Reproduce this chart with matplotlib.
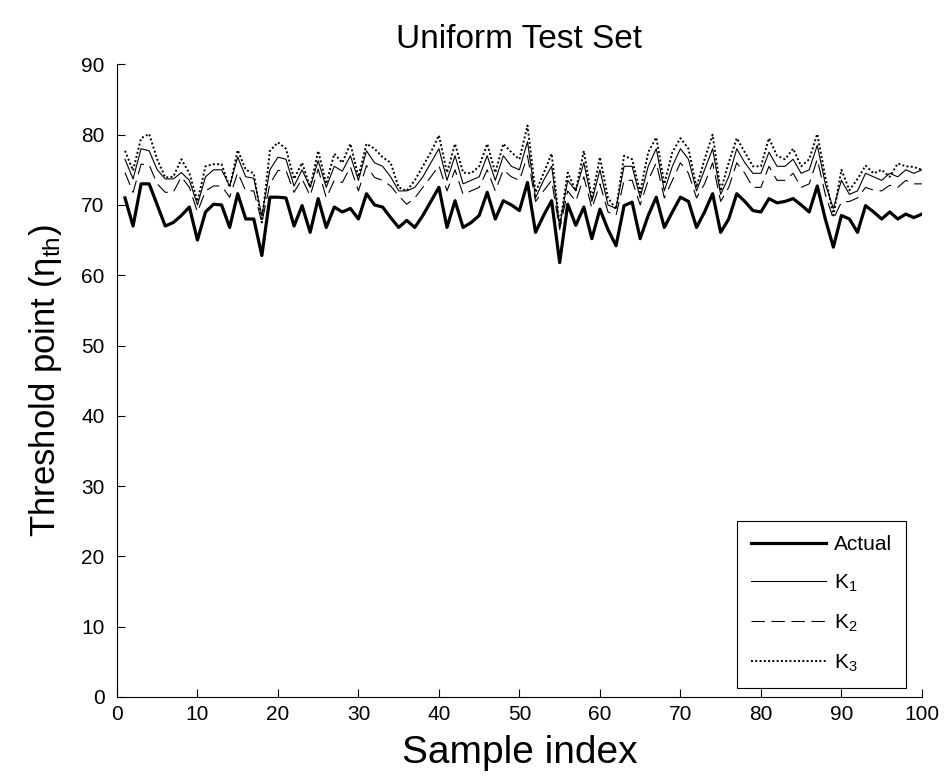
import numpy as np
import matplotlib
matplotlib.use("Agg")
import matplotlib.pyplot as plt

plt.rcParams['font.family'] = ['Liberation Sans', 'DejaVu Sans']
plt.rcParams['mathtext.fontset'] = 'custom'
plt.rcParams['mathtext.rm'] = 'Liberation Sans'
plt.rcParams['mathtext.it'] = 'Liberation Sans'

# sample index 1..100
sample = list(range(1, 101))

# threshold point per sample
actual = [71.0, 67.0, 73.0, 73.0, 70.0, 67.0, 67.5, 68.5, 69.7, 65.0,
          69.0, 70.1, 70.0, 66.8, 71.6, 68.0, 68.0, 62.8, 71.1, 71.1,
          71.0, 67.0, 69.9, 66.1, 70.9, 66.8, 69.7, 69.0, 69.5, 68.0,
          71.6, 70.0, 69.7, 68.2, 66.8, 67.8, 66.8, 68.5, 70.5, 72.5,
          66.8, 70.6, 66.8, 67.5, 68.5, 71.8, 68.0, 70.6, 70.0, 69.2,
          73.2, 66.1, 68.5, 70.6, 61.8, 70.1, 67.1, 69.7, 65.2, 69.4,
          66.5, 64.2, 69.9, 70.4, 65.2, 68.5, 71.1, 66.8, 69.0, 71.1,
          70.5, 66.8, 69.0, 71.6, 66.1, 68.0, 71.6, 70.5, 69.2, 69.0,
          70.9, 70.3, 70.5, 70.9, 70.0, 69.0, 72.7, 68.0, 64.0, 68.5,
          68.0, 66.1, 69.9, 69.0, 68.0, 69.0, 68.0, 68.7, 68.2, 68.7]

k1 = [76.5, 73.7, 78.0, 77.7, 75.0, 73.7, 73.7, 74.6, 73.5, 70.0,
      74.0, 75.0, 75.0, 72.7, 76.8, 74.0, 73.8, 68.5, 75.0, 76.8,
      76.5, 72.7, 75.0, 72.5, 76.3, 72.5, 75.5, 74.8, 77.0, 73.5,
      77.7, 76.0, 75.5, 74.0, 72.0, 72.0, 72.5, 74.0, 76.0, 78.0,
      73.5, 77.0, 73.0, 73.5, 74.0, 77.0, 73.5, 77.0, 75.5, 75.0,
      79.0, 71.0, 73.5, 75.5, 67.0, 73.5, 72.0, 76.0, 70.5, 75.0,
      70.0, 69.5, 75.5, 75.5, 71.0, 75.5, 78.0, 72.0, 75.5, 78.0,
      76.5, 72.0, 75.0, 78.0, 71.5, 74.0, 78.0, 76.0, 74.5, 74.5,
      77.5, 75.5, 75.5, 76.5, 74.5, 75.0, 78.5, 73.0, 69.5, 73.5,
      71.5, 72.0, 74.5, 74.0, 73.5, 74.5, 74.0, 75.0, 74.5, 75.0]

k2 = [74.6, 71.8, 75.8, 75.7, 73.0, 71.8, 71.8, 74.0, 72.5, 69.0,
      72.0, 72.7, 72.7, 71.1, 74.6, 72.0, 72.0, 67.5, 73.0, 74.9,
      74.9, 71.8, 73.7, 71.3, 75.1, 71.0, 73.5, 73.2, 75.4, 72.0,
      75.6, 73.9, 73.5, 72.7, 71.3, 70.1, 71.0, 72.5, 74.0, 75.6,
      72.0, 75.0, 71.5, 72.0, 72.5, 75.0, 72.0, 75.0, 74.0, 73.5,
      77.0, 70.5, 72.0, 73.5, 66.5, 72.0, 70.5, 74.0, 69.5, 73.0,
      69.0, 68.5, 73.5, 73.5, 70.0, 73.5, 76.0, 71.0, 73.5, 76.0,
      74.5, 71.0, 73.0, 76.0, 70.5, 72.5, 76.0, 74.5, 72.5, 72.5,
      75.5, 73.5, 73.5, 74.5, 72.5, 73.0, 76.5, 71.5, 68.0, 70.4,
      70.5, 71.0, 72.5, 72.1, 72.0, 72.8, 72.5, 73.5, 73.0, 73.0]

k3 = [77.7, 74.9, 79.5, 80.1, 76.5, 73.9, 74.0, 76.5, 74.5, 70.5,
      75.5, 75.8, 75.8, 72.5, 77.8, 75.0, 74.5, 67.5, 77.7, 78.9,
      78.0, 73.7, 76.0, 72.5, 77.7, 73.0, 77.3, 76.0, 78.7, 74.0,
      78.7, 78.0, 76.8, 76.0, 72.5, 72.0, 73.5, 75.5, 77.5, 79.9,
      74.6, 78.7, 74.6, 74.5, 75.5, 78.7, 74.6, 78.7, 77.5, 76.5,
      81.3, 71.8, 74.5, 77.3, 67.0, 74.6, 72.0, 77.7, 70.9, 76.8,
      71.0, 69.4, 77.0, 76.5, 71.8, 77.5, 79.6, 73.0, 77.5, 79.5,
      78.0, 72.5, 76.5, 80.0, 72.0, 76.0, 79.5, 77.5, 75.5, 75.5,
      79.5, 77.0, 76.5, 78.0, 75.5, 76.5, 80.1, 74.0, 68.5, 75.0,
      72.1, 73.7, 75.6, 74.5, 75.0, 74.0, 75.9, 75.5, 75.4, 75.0]

fig = plt.figure(figsize=(9.47, 7.82), dpi=100)
ax = fig.add_axes([0.1235, 0.1087, 0.850, 0.809])

ax.plot(sample, actual, '-', color='black', linewidth=2.3, label='Actual')
ax.plot(sample, k1, '-', color='black', linewidth=0.8, label='K$_1$')
ax.plot(sample, k2, color='black', linewidth=0.8, linestyle=(0, (12, 6)), label='K$_2$')
ax.plot(sample, k3, color='black', linewidth=1.4, linestyle=(0, (1, 1.2)), label='K$_3$')

ax.set_xlim(0, 100)
ax.set_ylim(0, 90)
ax.set_xticks(np.arange(0, 101, 10))
ax.set_yticks(np.arange(0, 91, 10))
ax.tick_params(direction='in', length=6, width=0.8, labelsize=15, colors='black')
ax.tick_params(axis='y', pad=9)
ax.tick_params(axis='x', pad=6)
ax.spines['top'].set_visible(False)
ax.spines['right'].set_visible(False)
ax.spines['left'].set_linewidth(0.8)
ax.spines['bottom'].set_linewidth(0.8)

ax.set_title('Uniform Test Set', fontsize=24, pad=12)
ax.set_xlabel('Sample index', fontsize=28, labelpad=8)
ax.set_ylabel(r'Threshold point ($\eta_{\mathrm{th}}$)', fontsize=25, labelpad=12)

leg = ax.legend(loc='lower right', bbox_to_anchor=(0.98, 0.015), borderaxespad=0,
                fontsize=15, handlelength=3.6, labelspacing=0.9, fancybox=False,
                framealpha=1, edgecolor='black', borderpad=0.65, handletextpad=0.4)
leg.get_frame().set_linewidth(0.8)

fig.savefig('out.png', dpi=100)
